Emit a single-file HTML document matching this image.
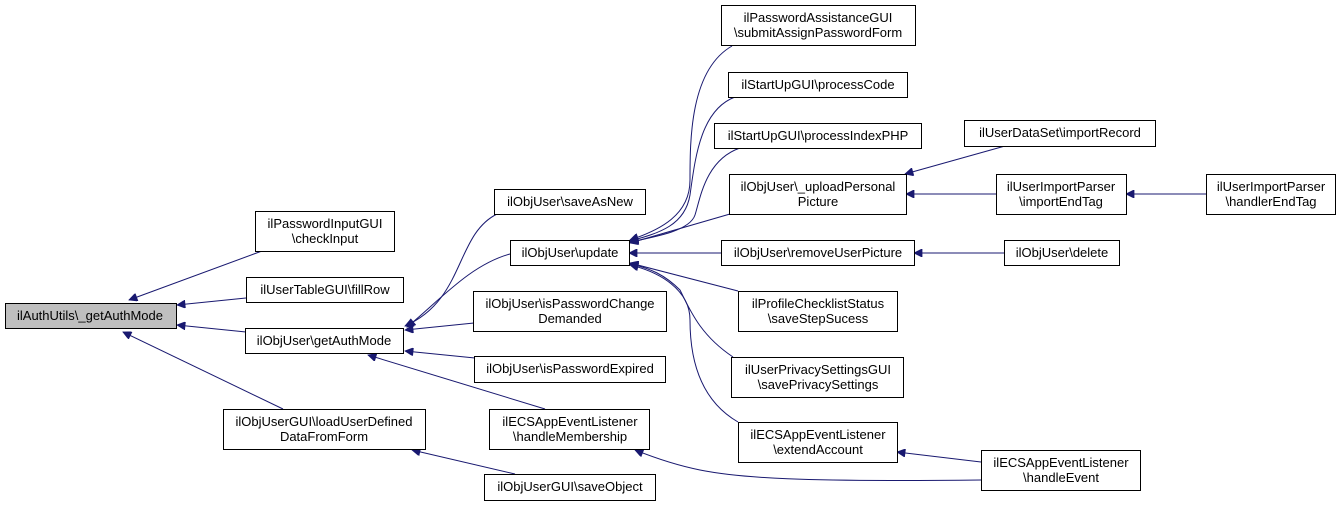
<!DOCTYPE html>
<html><head><meta charset="utf-8"><style>
html,body{margin:0;padding:0;background:#fff;}
svg{display:block;}
text{font-family:"Liberation Sans",sans-serif;font-size:13px;fill:#000;}
.n{fill:#fff;stroke:#000;stroke-width:1;}
.e{fill:none;stroke:#191970;stroke-width:1;}
</style></head><body>
<svg width="1340" height="506" viewBox="0 0 1340 506" xmlns="http://www.w3.org/2000/svg">
<defs><marker id="a" viewBox="0 0 10 10" refX="10" refY="5" markerWidth="11" markerHeight="8" orient="auto" markerUnits="userSpaceOnUse"><path d="M0,0 L10,5 L0,10 z" fill="#191970" stroke="#191970"/></marker></defs>
<g class="e" marker-end="url(#a)">
<path d="M262,251 L129,300"/>
<path d="M246,298 L177,305"/>
<path d="M246,332 L177,325"/>
<path d="M283,409 L123,332"/>
<path d="M515,474 L412,450"/>
<path d="M497,214 C455,235 465,300 405,326"/>
<path d="M510,254 C470,265 440,300 407,327"/>
<path d="M474,323 L405,330"/>
<path d="M475,358 L405,351"/>
<path d="M545,409 L368,355"/>
<path d="M981,480 C800,482 740,478 700,470 C680,466 660,460 635,450"/>
<path d="M732,46 C690,70 690,140 690,180 C690,215 660,230 630,240"/>
<path d="M735,97 C700,110 695,160 690,195 C685,225 660,233 630,241"/>
<path d="M740,148 C705,160 700,200 695,215 C690,230 660,236 630,242"/>
<path d="M730,214 L630,243"/>
<path d="M721,253 L629,253"/>
<path d="M738,291 L630,263"/>
<path d="M733,357 C700,335 690,310 680,290 C665,275 650,268 630,264"/>
<path d="M738,422 C700,400 690,360 690,320 C690,290 660,272 630,265"/>
<path d="M1005,146 L905,174"/>
<path d="M996,194 L906,194"/>
<path d="M1206,194 L1126,194"/>
<path d="M1004,253 L914,253"/>
<path d="M981,462 L897,452"/>
</g>
<rect x="5.5" y="303.5" width="171" height="25" fill="#bfbfbf" stroke="#000"/>
<text x="90" y="320" text-anchor="middle">ilAuthUtils\_getAuthMode</text>
<rect class="n" x="255.5" y="211.5" width="139" height="40"/>
<text x="325" y="228" text-anchor="middle">ilPasswordInputGUI</text><text x="325" y="243" text-anchor="middle">\checkInput</text>
<rect class="n" x="246.5" y="277.5" width="157" height="25"/>
<text x="325" y="294" text-anchor="middle">ilUserTableGUI\fillRow</text>
<rect class="n" x="245.5" y="328.5" width="158" height="25"/>
<text x="324" y="345" text-anchor="middle">ilObjUser\getAuthMode</text>
<rect class="n" x="223.5" y="409.5" width="202" height="40"/>
<text x="324" y="426" text-anchor="middle">ilObjUserGUI\loadUserDefined</text><text x="324" y="441" text-anchor="middle">DataFromForm</text>
<rect class="n" x="494.5" y="189.5" width="151" height="25"/>
<text x="570" y="206" text-anchor="middle">ilObjUser\saveAsNew</text>
<rect class="n" x="510.5" y="240.5" width="119" height="25"/>
<text x="570" y="257" text-anchor="middle">ilObjUser\update</text>
<rect class="n" x="473.5" y="291.5" width="193" height="40"/>
<text x="570" y="308" text-anchor="middle">ilObjUser\isPasswordChange</text><text x="570" y="323" text-anchor="middle">Demanded</text>
<rect class="n" x="474.5" y="356.5" width="191" height="26"/>
<text x="570" y="373" text-anchor="middle">ilObjUser\isPasswordExpired</text>
<rect class="n" x="489.5" y="409.5" width="160" height="40"/>
<text x="570" y="426" text-anchor="middle">ilECSAppEventListener</text><text x="570" y="441" text-anchor="middle">\handleMembership</text>
<rect class="n" x="484.5" y="474.5" width="171" height="26"/>
<text x="570" y="491" text-anchor="middle">ilObjUserGUI\saveObject</text>
<rect class="n" x="721.5" y="5.5" width="194" height="40"/>
<text x="818" y="22" text-anchor="middle">ilPasswordAssistanceGUI</text><text x="818" y="37" text-anchor="middle">\submitAssignPasswordForm</text>
<rect class="n" x="728.5" y="72.5" width="179" height="25"/>
<text x="818" y="89" text-anchor="middle">ilStartUpGUI\processCode</text>
<rect class="n" x="714.5" y="123.5" width="207" height="25"/>
<text x="818" y="140" text-anchor="middle">ilStartUpGUI\processIndexPHP</text>
<rect class="n" x="729.5" y="174.5" width="177" height="40"/>
<text x="818" y="191" text-anchor="middle">ilObjUser\_uploadPersonal</text><text x="818" y="206" text-anchor="middle">Picture</text>
<rect class="n" x="721.5" y="240.5" width="193" height="25"/>
<text x="818" y="257" text-anchor="middle">ilObjUser\removeUserPicture</text>
<rect class="n" x="738.5" y="291.5" width="159" height="40"/>
<text x="818" y="308" text-anchor="middle">ilProfileChecklistStatus</text><text x="818" y="323" text-anchor="middle">\saveStepSucess</text>
<rect class="n" x="731.5" y="357.5" width="172" height="40"/>
<text x="818" y="374" text-anchor="middle">ilUserPrivacySettingsGUI</text><text x="818" y="389" text-anchor="middle">\savePrivacySettings</text>
<rect class="n" x="738.5" y="422.5" width="159" height="40"/>
<text x="818" y="439" text-anchor="middle">ilECSAppEventListener</text><text x="818" y="454" text-anchor="middle">\extendAccount</text>
<rect class="n" x="964.5" y="120.5" width="191" height="26"/>
<text x="1060" y="137" text-anchor="middle">ilUserDataSet\importRecord</text>
<rect class="n" x="996.5" y="174.5" width="130" height="40"/>
<text x="1061" y="191" text-anchor="middle">ilUserImportParser</text><text x="1061" y="206" text-anchor="middle">\importEndTag</text>
<rect class="n" x="1004.5" y="240.5" width="115" height="25"/>
<text x="1062" y="257" text-anchor="middle">ilObjUser\delete</text>
<rect class="n" x="981.5" y="450.5" width="159" height="40"/>
<text x="1061" y="467" text-anchor="middle">ilECSAppEventListener</text><text x="1061" y="482" text-anchor="middle">\handleEvent</text>
<rect class="n" x="1206.5" y="174.5" width="129" height="40"/>
<text x="1271" y="191" text-anchor="middle">ilUserImportParser</text><text x="1271" y="206" text-anchor="middle">\handlerEndTag</text>
</svg>
</body></html>
